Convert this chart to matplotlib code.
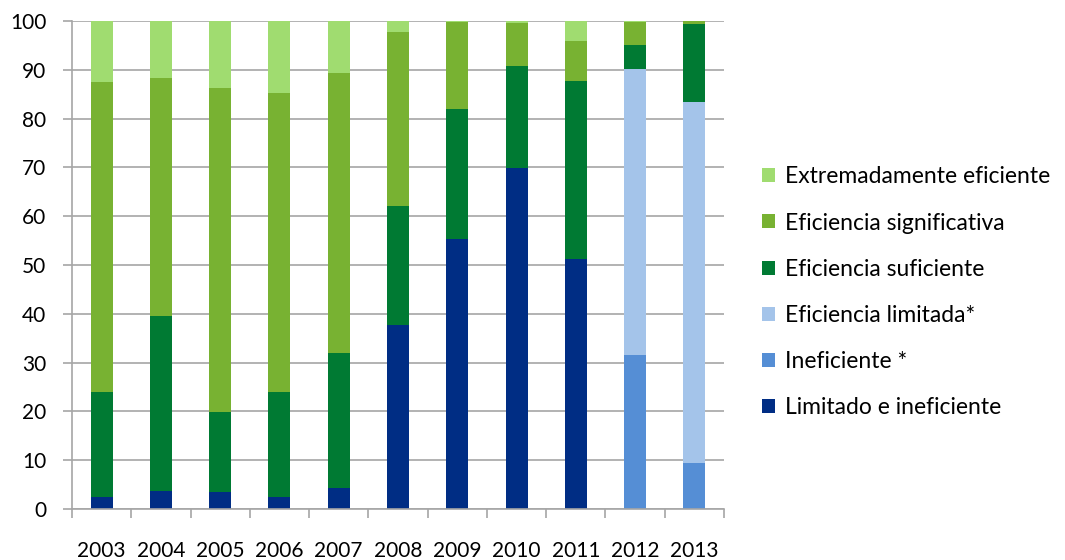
import matplotlib.pyplot as plt
import numpy as np

plt.rcParams['font.family'] = ['Lato', 'DejaVu Sans']

anios = ['2003', '2004', '2005', '2006', '2007', '2008', '2009', '2010', '2011', '2012', '2013']

# porcentajes por categoria (de abajo hacia arriba en cada barra)
limitado_ineficiente = [2.4, 3.7, 3.4, 2.4, 4.4, 37.8, 55.3, 69.8, 51.3, 0, 0]
ineficiente = [0, 0, 0, 0, 0, 0, 0, 0, 0, 31.6, 9.4]
efic_limitada = [0, 0, 0, 0, 0, 0, 0, 0, 0, 58.5, 74.0]
efic_suficiente = [21.6, 35.8, 16.4, 21.6, 27.6, 24.3, 26.6, 20.9, 36.5, 4.9, 15.9]
efic_significativa = [63.4, 48.9, 66.4, 61.2, 57.4, 35.6, 17.8, 8.9, 8.2, 4.8, 0.6]
extrem_eficiente = [12.6, 11.6, 13.8, 14.8, 10.6, 2.3, 0.3, 0.4, 4.0, 0.2, 0.1]

series = [
    ('Limitado e ineficiente', limitado_ineficiente, '#002D84'),
    ('Ineficiente *', ineficiente, '#558ED5'),
    ('Eficiencia limitada*', efic_limitada, '#A4C4EA'),
    ('Eficiencia suficiente', efic_suficiente, '#007A33'),
    ('Eficiencia significativa', efic_significativa, '#78B232'),
    ('Extremadamente eficiente', extrem_eficiente, '#A0DC70'),
]

fig = plt.figure(figsize=(10.65, 5.6), dpi=100)
ax = fig.add_axes([0.0676, 0.0911, 0.6122, 0.8714])

x = np.arange(len(anios))
base = np.zeros(len(anios))
handles = []
for nombre, valores, color in series:
    b = ax.bar(x, valores, 0.37, bottom=base, color=color, label=nombre, zorder=2)
    handles.append(b)
    base += np.array(valores)

ax.set_xlim(-0.5, len(anios) - 0.5)
ax.set_ylim(0, 100)
ax.set_yticks(range(0, 101, 10))
ax.yaxis.grid(True, color='#A6A6A6', linewidth=1.2, zorder=0)
ax.set_xticks(x)
ax.set_xticklabels(anios)
ax.set_xticks(np.arange(-0.5, len(anios), 1), minor=True)
ax.tick_params(axis='x', which='major', length=0, pad=23, labelsize=15)
ax.tick_params(axis='x', which='minor', length=6.5, color='#A6A6A6', width=1.2)
ax.tick_params(axis='y', length=6.5, color='#A6A6A6', width=1.2, pad=12, labelsize=15)

for lado in ['top', 'right']:
    ax.spines[lado].set_visible(False)
ax.spines['left'].set_color('#A6A6A6')
ax.spines['bottom'].set_color('#A6A6A6')
ax.spines['left'].set_linewidth(1.2)
ax.spines['bottom'].set_linewidth(1.2)

ax.legend(handles[::-1], [s[0] for s in series][::-1],
          loc='center left', bbox_to_anchor=(1.041, 0.444), frameon=False,
          fontsize=16.5, handlelength=0.55, handleheight=0.55, handletextpad=0.45,
          labelspacing=1.1, borderpad=0)

fig.savefig('out.png', dpi=100)
